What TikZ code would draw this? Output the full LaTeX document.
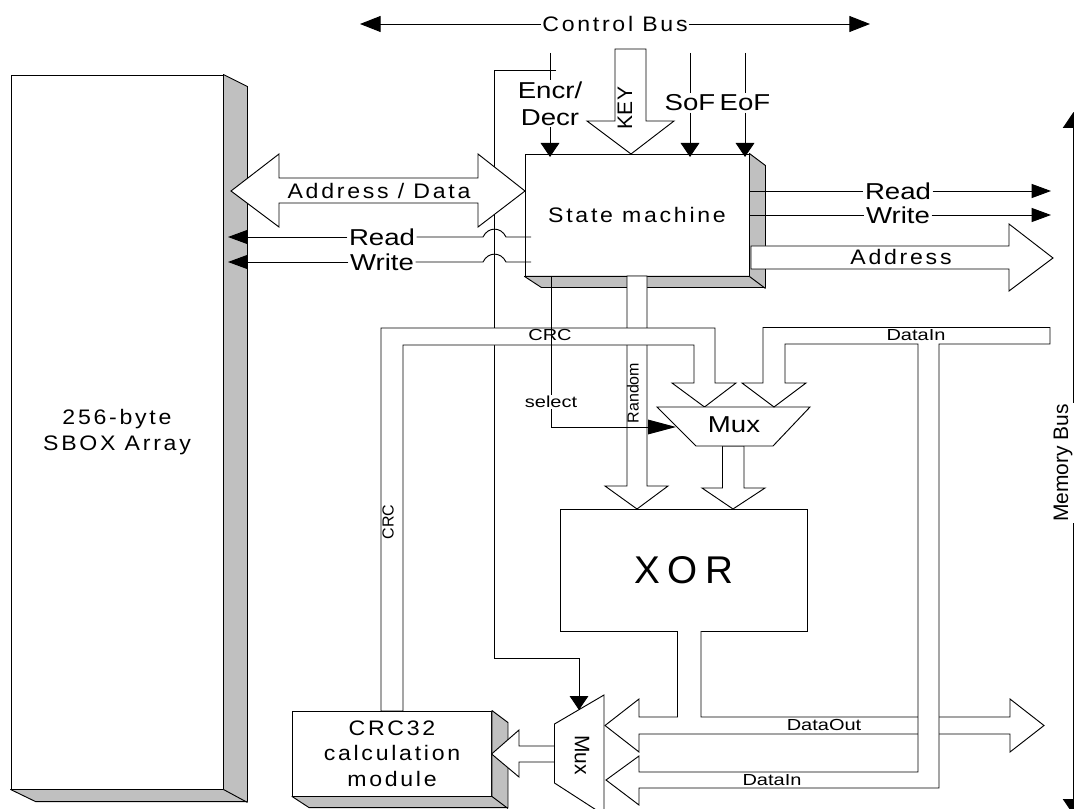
\documentclass[tikz,border=0pt]{standalone}
\usepackage{fontspec}
\usetikzlibrary{arrows.meta}
\setmainfont{Liberation Sans}
\newfontfamily\stfont[FakeStretch=1.2]{Liberation Sans}
\newfontfamily\spfont[FakeStretch=1.1,LetterSpace=13]{Liberation Sans}
\newfontfamily\smfont[FakeStretch=1.25]{Liberation Sans}
\newfontfamily\xorfont[LetterSpace=20]{Liberation Sans}
\definecolor{sidegray}{HTML}{C0C0C0}
\tikzset{
  wire/.style={draw=black,line width=.7pt},
  side/.style={draw=black,fill=sidegray,line width=.7pt,line join=round},
  face/.style={draw=black,fill=white,line width=.7pt,inner sep=0pt,align=center},
  blockarrow/.style={draw=black,fill=white,line width=.7pt,line join=miter},
  labelbig/.style={inner sep=1pt,align=center,font=\stfont\fontsize{17.25pt}{20.25pt}\selectfont},
  labelspaced/.style={inner sep=1pt,align=center,font=\spfont\fontsize{15.75pt}{19.25pt}\selectfont},
  labelsmall/.style={inner sep=0.5pt,font=\smfont\fontsize{12pt}{14pt}\selectfont},
  labelrot/.style={inner sep=0.5pt,font=\fontsize{12pt}{14pt}\selectfont},
  labelrotbig/.style={inner sep=0.5pt,font=\fontsize{15.75pt}{18pt}\selectfont},
  tipbus/.tip={Triangle[length=15.5pt,width=12pt]},
  tipmem/.tip={Triangle[length=12pt,width=16pt]},
  tipside/.tip={Triangle[length=14.5pt,width=10.5pt]},
  tipdown/.tip={Triangle[length=10.5pt,width=14pt]},
  tipsel/.tip={Triangle[length=21pt,width=11pt]},
}
\begin{document}
\begin{tikzpicture}[x=.75pt,y=-.75pt]
\clip (0,0) rectangle (1074,809);
\fill[white] (0,0) rectangle (1074,809);

% named free ends
\coordinate (cbl) at (360,24);
\coordinate (cbr) at (870,24);
\coordinate (ctlstart) at (556,70);
\coordinate (ctlend) at (579,710);
\coordinate (encrtop) at (550,53);
\coordinate (encrtip) at (550,157);
\coordinate (softop) at (690,53);
\coordinate (softip) at (690,157);
\coordinate (eoftop) at (745,53);
\coordinate (eoftip) at (745,157);
\coordinate (readltip) at (228,237);
\coordinate (writeltip) at (228,262);
\coordinate (readrtip) at (1051,191);
\coordinate (writertip) at (1051,215);
\coordinate (memtop) at (1073.5,112);
\coordinate (membot) at (1073.5,815);
\coordinate (seltip) at (676,427);

% SBOX
\node[face,labelspaced,draw,inner sep=0pt,minimum width=159pt,minimum height=535.5pt] (sbox) at (117,432) {256-byte\\SBOX Array};
\draw[side] (sbox.north east) -- ++(24,12) -- ++(0,715) -- ++(-212,0) -- (sbox.south west) -- (sbox.south east) -- cycle;
\draw[side] (sbox.south east) -- ++(24,13);

% control line to lower mux
\draw[wire] (ctlstart) -- (494,70) -- (494,658) -- (579,658) -- (ctlend);

% Address / Data
\draw[blockarrow] (231,191) -- (279,154) -- (279,178) -- (478,178) -- (478,154) -- (525,191) -- (478,227) -- (478,203) -- (279,203) -- (279,227) -- cycle;
\node[labelspaced] (addrdata) at (379,191) {Address / Data};

% State machine
\node[face,labelspaced,draw,inner sep=0pt,minimum width=168pt,minimum height=91.5pt] (sm) at (637,215) {State machine};
\draw[side] (sm.north east) -- ++(16,12) -- ++(0,122) -- ++(-224,0) -- (sm.south west) -- (sm.south east) -- cycle;
\draw[side] (sm.south east) -- ++(16,12);

% XOR
\node[face,minimum width=185.6pt,minimum height=91.5pt,font=\xorfont\fontsize{29pt}{32pt}\selectfont] (xor) at (683.75,570) {XOR};

% Random
\draw[blockarrow] (627,276) -- (647,276) -- (647,486) -- (668,486) -- (637,509) -- (605,486) -- (627,486) -- cycle;

% CRC bus
\draw[blockarrow] (381,711) -- (381,328) -- (715,328) -- (715,383) -- (736,383) -- (704.5,407) -- (672,383) -- (694,383) -- (694,345) -- (403,345) -- (403,711) -- cycle;

% Mux 1
\draw[blockarrow] (722.5,446) -- (744,446) -- (744,488) -- (765,488) -- (733,509) -- (702,488) -- (722.5,488) -- cycle;
\draw[blockarrow] (657,407) -- (810,407) -- (773,446) -- (696,446) -- cycle;
\node[labelbig] (muxa) at (734,425) {Mux};

% DataOut
\draw[blockarrow] (677.5,631) -- (677.5,717) -- (639,717) -- (639,699) -- (605,725.5) -- (639,752) -- (639,734) -- (1010,734) -- (1010,752) -- (1044,725.5) -- (1010,699) -- (1010,717) -- (701,717) -- (701,631);

% DataIn
\draw[blockarrow] (1050,327.5) -- (763,327.5) -- (763,383) -- (742,383) -- (774,407) -- (806,383) -- (785,383) -- (785,344) -- (918,344) -- (918,772) -- (639,772) -- (639,756) -- (606,780) -- (639,805) -- (639,788) -- (939,788) -- (939,344) -- (1050,344) -- cycle;

% CRC32 module
\node[face,labelspaced,draw,inner sep=0pt,minimum width=149.25pt,minimum height=63.75pt] (crc) at (392,753.5) {CRC32\\calculation\\module};
\draw[side] (crc.north east) -- ++(16,12) -- ++(0,85) -- ++(-199,0) -- (crc.south west) -- (crc.south east) -- cycle;
\draw[side] (crc.south east) -- ++(16,12);

% Lower mux and its output
\draw[blockarrow] (554.5,746) -- (519,746) -- (519,730) -- (491.6,754) -- (519,777) -- (519,762) -- (554.5,762);
\draw[blockarrow] (604,695) -- (604,815) -- (554.5,783) -- (554.5,724) -- cycle;
\node[labelrotbig,rotate=-90] (muxb) at (582,755) {Mux};
\draw[wire,-{tipdown}] (579,690) -- (ctlend);

% KEY
\draw[blockarrow] (615,49) -- (646,49) -- (646,121) -- (674,121) -- (631,154) -- (587,121) -- (615,121) -- cycle;
\node[labelrotbig,rotate=90] (key) at (625,108) {KEY};

% Top labels and inputs
\node[labelbig] (encr) at (550,103.5) {Encr/\\Decr};
\node[labelbig] (sof) at (690,103) {SoF};
\node[labelbig] (eof) at (745,103) {EoF};
\draw[wire] (encrtop) -- (encr.north);
\draw[wire,-{tipdown}] (encr.south) -- (encrtip);
\draw[wire] (softop) -- (sof.north);
\draw[wire,-{tipdown}] (sof.south) -- (softip);
\draw[wire] (eoftop) -- (eof.north);
\draw[wire,-{tipdown}] (eof.south) -- (eoftip);

% Control bus
\node[labelspaced] (cb) at (615,24) {Control Bus};
\draw[wire,-{tipbus}] (cb) -- (cbl);
\draw[wire,-{tipbus}] (cb) -- (cbr);

% Memory bus
\draw[wire,{tipmem}-{tipmem}] (memtop) -- (membot);
\node[labelrotbig,rotate=90,fill=white,inner ysep=1.5pt] (mem) at (1063,463) {Memory Bus};

% Left Read / Write
\node[labelbig] (readl) at (382,237) {Read};
\node[labelbig] (writel) at (382,262) {Write};
\draw[wire,-{tipside}] (readl) -- (readltip);
\draw[wire,-{tipside}] (writel) -- (writeltip);
\draw[wire] (531,237) -- (506,237) .. controls (501,226.5) and (488,226.5) .. (483,237) -- (readl);
\draw[wire] (531,262) -- (506,262) .. controls (501,251.5) and (488,251.5) .. (483,262) -- (writel);

% Right Read / Write / Address
\node[labelbig] (readr) at (898,191) {Read};
\node[labelbig] (writer) at (898,215) {Write};
\draw[wire] (readr -| sm.east) -- (readr);
\draw[wire] (writer -| sm.east) -- (writer);
\draw[wire,-{tipside}] (readr) -- (readrtip);
\draw[wire,-{tipside}] (writer) -- (writertip);
\draw[blockarrow] (751,246) -- (1009,246) -- (1009,224) -- (1053,258) -- (1009,291) -- (1009,269) -- (751,269) -- cycle;
\node[labelspaced] (addr) at (901,257) {Address};

% Select
\node[labelsmall] (sel) at (551,402) {select};
\draw[wire] (551,276) -- (sel);
\draw[wire,-{tipsel}] (sel) -- (551,427) -- (seltip);

% small labels
\node[labelsmall] (crctop) at (550,335) {CRC};
\node[labelsmall] (dintop) at (916,335) {DataIn};
\node[labelrot,rotate=90] (rand) at (633,393) {Random};
\node[labelrot,rotate=90] (crcv) at (388,522) {CRC};
\node[labelsmall] (dout) at (824,725) {DataOut};
\node[labelsmall] (din) at (772,780) {DataIn};
\end{tikzpicture}
\end{document}
